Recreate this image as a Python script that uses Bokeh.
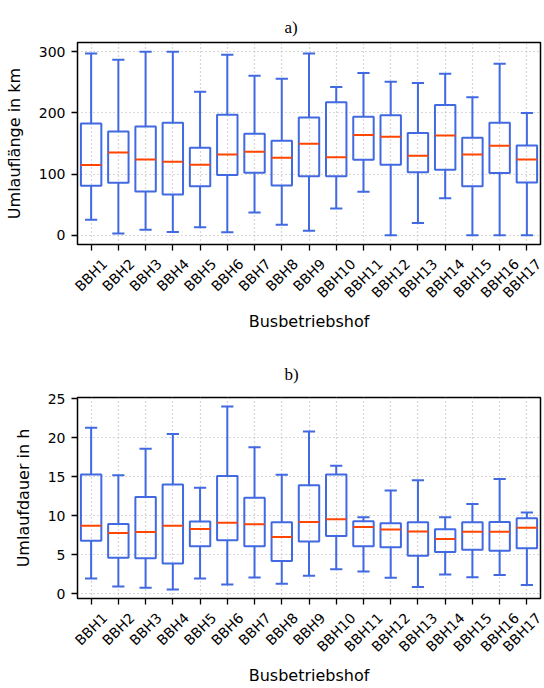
from math import pi
from bokeh.plotting import figure
from bokeh.models import ColumnDataSource, Range1d, FixedTicker, LinearAxis, Title
from bokeh.transform import dodge
from bokeh.layouts import column
from bokeh.embed import file_html
from bokeh.resources import INLINE

# ---------------- data ----------------
categories = ["BBH1", "BBH2", "BBH3", "BBH4", "BBH5", "BBH6", "BBH7", "BBH8", "BBH9",
              "BBH10", "BBH11", "BBH12", "BBH13", "BBH14", "BBH15", "BBH16", "BBH17"]

# a) Umlauflänge in km
km_upper = [297, 287, 300, 300, 234.7, 295, 260.7, 255.8, 297, 242.3, 265, 251, 248.8, 264, 225.5, 280.2, 200]
km_q3 = [182.6, 169.6, 177.7, 184, 143, 197, 165.9, 154.5, 192.4, 217.4, 193.5, 196.2, 167, 213, 159.3, 183.7, 146.8]
km_median = [115, 135.5, 124, 120, 115.4, 132, 136.6, 126.8, 149.6, 127.4, 163.7, 161, 130, 163, 132.2, 146.3, 124]
km_q1 = [80.8, 86, 71.5, 66.7, 80, 98.6, 102.4, 81.3, 96.5, 96.5, 123.6, 115.4, 102.9, 107.3, 80.2, 102, 86.2]
km_lower = [25.5, 3, 9, 5.5, 13, 4.9, 37.4, 17.3, 7.6, 43.9, 71, 0, 20, 60.7, 0, 0, 0]
km_ticks = [0, 100, 200, 300]

# b) Umlaufdauer in h
h_upper = [21.3, 15.2, 18.6, 20.5, 13.6, 24.0, 18.8, 15.25, 20.8, 16.4, 9.8, 13.25, 14.56, 9.8, 11.5, 14.7, 10.4]
h_q3 = [15.3, 8.95, 12.4, 14.0, 9.26, 15.1, 12.3, 9.17, 13.9, 15.3, 9.3, 9.05, 9.17, 8.28, 9.17, 9.2, 9.68]
h_median = [8.7, 7.8, 7.9, 8.7, 8.3, 9.1, 8.9, 7.26, 9.2, 9.55, 8.57, 8.24, 7.98, 7.0, 7.94, 7.94, 8.45]
h_q1 = [6.8, 4.6, 4.55, 3.86, 6.1, 6.84, 6.1, 4.2, 6.7, 7.4, 6.07, 5.95, 4.88, 5.35, 5.64, 5.5, 5.82]
h_lower = [1.95, 0.93, 0.76, 0.55, 1.95, 1.19, 2.08, 1.27, 2.3, 3.14, 2.84, 2.04, 0.85, 2.46, 2.12, 2.38, 1.1]
h_ticks = [0, 5, 10, 15, 20, 25]

# ---------------- style ----------------
BOX_COLOR = "#4169E1"
MED_COLOR = "#FF4500"
GRID_COLOR = "#b0b0b0"
FONT = "DejaVu Sans"
BOX_W = 0.75
CAP_W = 0.375
FIG_W = 544
BORDER_L = 77
BORDER_R = 4
PX_PER_CAT = (FIG_W - BORDER_L - BORDER_R) / len(categories)
LABEL_PX = 14

# category slot centres on the x scale
centers = [i + 0.5 for i in range(len(categories))]


def label_shift(name):
    # rotated labels are anchored at their right end; shift so they are centred on the tick
    w = LABEL_PX * (0.686 * name.count("B") + 0.752 * name.count("H") + 0.636 * (len(name) - 3))
    return 0.354 * w / PX_PER_CAT


def make_panel(title, ylabel, upper, q3, med, q1, lower, yticks, y_start, y_end,
               height, border_top, border_bottom, title_offset, title_standoff):
    src = ColumnDataSource(dict(x=centers, cat=categories, upper=upper, q3=q3, med=med,
                                q1=q1, lower=lower))
    p = figure(x_range=Range1d(0, len(categories)), y_range=Range1d(y_start, y_end),
               width=FIG_W, height=height, output_backend="svg", toolbar_location=None,
               min_border_left=BORDER_L, min_border_right=BORDER_R,
               min_border_top=border_top, min_border_bottom=border_bottom)
    p.background_fill_color = "white"
    p.border_fill_color = "white"
    p.outline_line_color = "black"
    p.outline_line_width = 1.5

    p.title = Title(text=title, align="left", offset=title_offset, vertical_align="top",
                    text_font="Liberation Serif", text_font_size="17px",
                    text_font_style="normal", text_color="black", standoff=title_standoff)

    yt = FixedTicker(ticks=yticks)
    p.yaxis[0].ticker = yt
    p.ygrid[0].ticker = yt
    xt = FixedTicker(ticks=centers)
    p.xaxis[0].ticker = xt
    p.xgrid[0].ticker = xt
    for g in (p.xgrid[0], p.ygrid[0]):
        g.grid_line_color = GRID_COLOR
        g.grid_line_dash = "1 3"
        g.grid_line_width = 1.2

    # whiskers
    p.segment(x0="x", y0="q3", x1="x", y1="upper", source=src, line_color=BOX_COLOR, line_width=2)
    p.segment(x0="x", y0="q1", x1="x", y1="lower", source=src, line_color=BOX_COLOR, line_width=2)
    # caps
    p.segment(x0=dodge("x", -CAP_W / 2), y0="upper", x1=dodge("x", CAP_W / 2), y1="upper",
              source=src, line_color=BOX_COLOR, line_width=2, line_cap="square")
    p.segment(x0=dodge("x", -CAP_W / 2), y0="lower", x1=dodge("x", CAP_W / 2), y1="lower",
              source=src, line_color=BOX_COLOR, line_width=2, line_cap="square")
    # boxes
    p.vbar(x="x", width=BOX_W, top="q3", bottom="q1", source=src,
           fill_color=None, line_color=BOX_COLOR, line_width=2)
    # medians
    p.segment(x0=dodge("x", -BOX_W / 2), y0="med", x1=dodge("x", BOX_W / 2), y1="med",
              source=src, line_color=MED_COLOR, line_width=2)

    # main x axis: tick marks only
    xa = p.xaxis[0]
    xa.major_label_overrides = {t: c for t, c in zip(centers, categories)}
    xa.major_label_text_font_size = "1px"
    xa.major_label_text_color = None
    xa.major_label_standoff = 0
    xa.major_tick_out = 6
    xa.major_tick_in = 0
    xa.minor_tick_line_color = None
    xa.major_tick_line_color = "black"
    xa.major_tick_line_width = 1.3
    xa.axis_line_color = None

    # label axis: rotated category names centred under the ticks
    pos = [min(t + label_shift(c), len(categories) - 0.01) for t, c in zip(centers, categories)]
    la = LinearAxis(ticker=FixedTicker(ticks=pos),
                    major_label_overrides={t: c for t, c in zip(pos, categories)})
    la.major_label_orientation = pi / 4
    la.major_label_standoff = 11
    la.major_label_text_font = FONT
    la.major_label_text_font_size = f"{LABEL_PX}px"
    la.major_label_text_color = "black"
    la.major_tick_out = 0
    la.major_tick_in = 0
    la.major_tick_line_color = None
    la.minor_tick_line_color = None
    la.axis_line_color = None
    la.axis_label = "Busbetriebshof"
    la.axis_label_text_font = FONT
    la.axis_label_text_font_size = "16px"
    la.axis_label_text_font_style = "normal"
    la.axis_label_text_color = "black"
    la.axis_label_standoff = 3
    p.add_layout(la, "below")

    ya = p.yaxis[0]
    ya.major_tick_out = 6
    ya.major_tick_in = 0
    ya.minor_tick_line_color = None
    ya.major_tick_line_color = "black"
    ya.major_tick_line_width = 1.3
    ya.axis_line_color = None
    ya.major_label_standoff = 6
    ya.major_label_text_font = FONT
    ya.major_label_text_font_size = "14px"
    ya.major_label_text_color = "black"
    ya.axis_label = ylabel
    ya.axis_label_text_font = FONT
    ya.axis_label_text_font_size = "16px"
    ya.axis_label_text_font_style = "normal"
    ya.axis_label_text_color = "black"
    ya.axis_label_standoff = 12
    return p


p1 = make_panel("a)", "Umlauflänge in km", km_upper, km_q3, km_median, km_q1, km_lower,
                km_ticks, -15, 315, 350, 42, 106, 207, 8)
p2 = make_panel("b)", "Umlaufdauer in h", h_upper, h_q3, h_median, h_q1, h_lower,
                h_ticks, -0.62, 25.17, 338, 47, 89, 207, 23)

layout = column(p1, p2)
open("out.html", "w").write(file_html(layout, INLINE))
